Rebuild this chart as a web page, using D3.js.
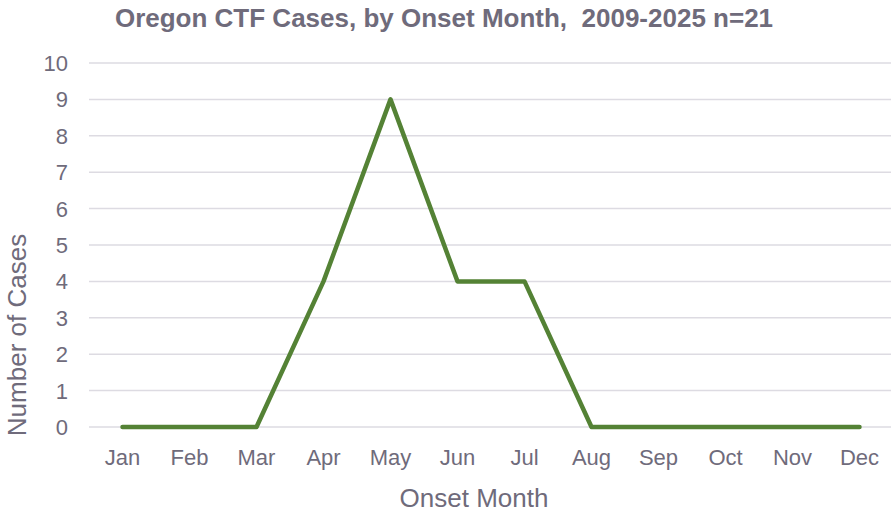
<!DOCTYPE html>
<html>
<head>
<meta charset="utf-8">
<script src="https://cdn.jsdelivr.net/npm/d3@7"></script>
<style>
  body { margin: 0; background: #fff; }
  text { font-family: "Liberation Sans", Arial, sans-serif; }
</style>
</head>
<body>
<script>
'use strict';

var months = ['Jan', 'Feb', 'Mar', 'Apr', 'May', 'Jun', 'Jul', 'Aug', 'Sep', 'Oct', 'Nov', 'Dec'];
var cases = [0, 0, 0, 4, 9, 4, 4, 0, 0, 0, 0, 0];
var yTicks = [0, 1, 2, 3, 4, 5, 6, 7, 8, 9, 10];

var width = 891, height = 513;
var textColor = '#6f6b7b';

var svg = d3.select('body').append('svg')
    .attr('width', width)
    .attr('height', height);

var x = d3.scalePoint()
    .domain(months)
    .range([122.5, 859.5]);

var y = d3.scaleLinear()
    .domain([0, 10])
    .range([427, 63]);

// gridlines
svg.append('g')
    .selectAll('line')
    .data(yTicks)
    .enter().append('line')
    .attr('x1', 89)
    .attr('x2', 891)
    .attr('y1', function(d) { return y(d); })
    .attr('y2', function(d) { return y(d); })
    .attr('stroke', '#dddbe2')
    .attr('stroke-width', 1.5);

// y tick labels
svg.append('g')
    .selectAll('text')
    .data(yTicks)
    .enter().append('text')
    .attr('x', 68)
    .attr('y', function(d) { return y(d); })
    .attr('dy', '0.36em')
    .attr('text-anchor', 'end')
    .attr('font-size', 22)
    .attr('fill', textColor)
    .text(function(d) { return d; });

// x tick labels
svg.append('g')
    .selectAll('text')
    .data(months)
    .enter().append('text')
    .attr('x', function(d) { return x(d); })
    .attr('y', 465)
    .attr('text-anchor', 'middle')
    .attr('font-size', 22)
    .attr('fill', textColor)
    .text(function(d) { return d; });

var line = d3.line()
    .x(function(d, i) { return x(months[i]); })
    .y(function(d) { return y(d); });

svg.append('path')
    .datum(cases)
    .attr('d', line)
    .attr('fill', 'none')
    .attr('stroke', '#548235')
    .attr('stroke-width', 4.5)
    .attr('stroke-linejoin', 'round')
    .attr('stroke-linecap', 'round');

// title
svg.append('text')
    .attr('x', 444)
    .attr('y', 27)
    .attr('text-anchor', 'middle')
    .attr('font-size', 26)
    .attr('font-weight', 'bold')
    .attr('fill', textColor)
    .style('white-space', 'pre')
    .text('Oregon CTF Cases, by Onset Month,  2009-2025 n=21');

// axis titles
svg.append('text')
    .attr('transform', 'translate(26,335) rotate(-90)')
    .attr('text-anchor', 'middle')
    .attr('font-size', 26)
    .attr('fill', textColor)
    .text('Number of Cases');

svg.append('text')
    .attr('x', 474)
    .attr('y', 507)
    .attr('text-anchor', 'middle')
    .attr('font-size', 26)
    .attr('fill', textColor)
    .text('Onset Month');
</script>
</body>
</html>
